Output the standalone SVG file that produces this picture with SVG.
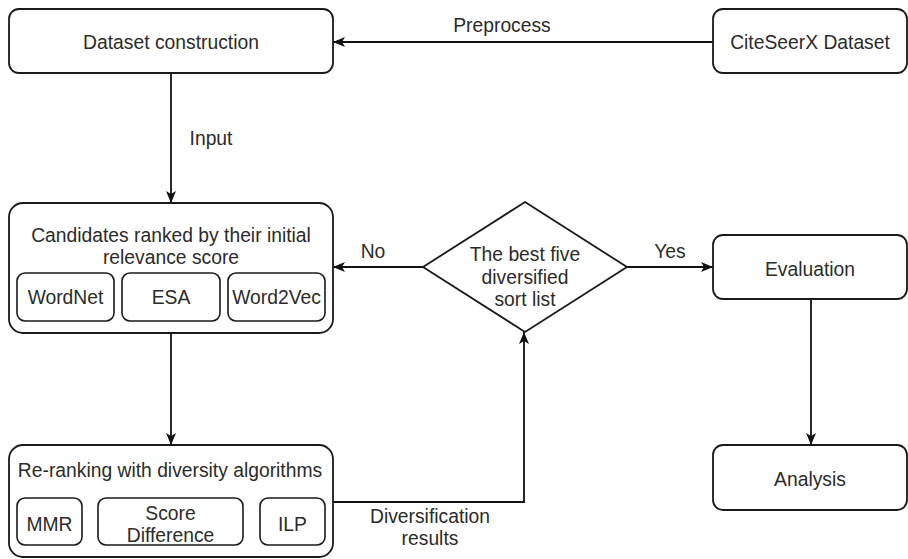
<svg xmlns="http://www.w3.org/2000/svg" width="908" height="559" viewBox="0 0 908 559">
  <defs>
    <marker id="arr" viewBox="0 0 12 10" refX="12" refY="5" markerWidth="12" markerHeight="10" markerUnits="userSpaceOnUse" orient="auto">
      <path d="M0,0 L12,5 L0,10 L3,5 Z" fill="#111"/>
    </marker>
    <style>
      .box { fill: #fff; stroke: #1a1a1a; stroke-width: 1.8; }
      .sub { fill: #fff; stroke: #1a1a1a; stroke-width: 1.6; }
      .t { font-family: "Liberation Sans", Arial, sans-serif; font-size: 19.3px; fill: #2b2b2b; text-anchor: middle; }
      .edge { fill: none; stroke: #111; stroke-width: 1.8; marker-end: url(#arr); }
    </style>
  </defs>
  <rect width="908" height="559" fill="#fff"/>

  <g id="connectors">
    <path class="edge" d="M713,42 L333,42"/>
    <path class="edge" d="M171,73 L171,203"/>
    <path class="edge" d="M423,267 L333,267"/>
    <path class="edge" d="M627,267 L713,267"/>
    <path class="edge" d="M171,333 L171,445"/>
    <path class="edge" d="M333,502 L524,502 L524,332"/>
    <path class="edge" d="M811,299 L811,445"/>
    <text class="t" x="502" y="32">Preprocess</text>
    <text class="t" x="211" y="145">Input</text>
    <text class="t" x="373" y="258">No</text>
    <text class="t" x="670" y="258">Yes</text>
    <text class="t" x="430" y="523">Diversification</text>
    <text class="t" x="430" y="545">results</text>
  </g>

  <g id="dataset-construction">
    <rect class="box" x="9" y="9" width="324" height="64" rx="10"/>
    <text class="t" x="171" y="49">Dataset construction</text>
  </g>

  <g id="citeseerx-dataset">
    <rect class="box" x="713" y="9" width="194" height="64" rx="10"/>
    <text class="t" x="810" y="49">CiteSeerX Dataset</text>
  </g>

  <g id="candidates">
    <rect class="box" x="9" y="203" width="324" height="130" rx="14"/>
    <text class="t" x="171" y="242">Candidates ranked by their initial</text>
    <text class="t" x="171" y="264">relevance score</text>
    <g id="wordnet">
      <rect class="sub" x="17" y="273" width="97" height="48" rx="8"/>
      <text class="t" x="65.5" y="304">WordNet</text>
    </g>
    <g id="esa">
      <rect class="sub" x="122" y="273" width="98" height="48" rx="8"/>
      <text class="t" x="171" y="304">ESA</text>
    </g>
    <g id="word2vec">
      <rect class="sub" x="228" y="273" width="97" height="48" rx="8"/>
      <text class="t" x="276.5" y="304">Word2Vec</text>
    </g>
  </g>

  <g id="decision">
    <polygon class="box" points="525,202 627,267 525,332 423,267"/>
    <text class="t" x="525" y="261">The best five</text>
    <text class="t" x="525" y="283.5">diversified</text>
    <text class="t" x="525" y="306">sort list</text>
  </g>

  <g id="evaluation">
    <rect class="box" x="713" y="235" width="194" height="64" rx="10"/>
    <text class="t" x="810" y="276">Evaluation</text>
  </g>

  <g id="reranking">
    <rect class="box" x="9" y="445" width="324" height="112" rx="14"/>
    <text class="t" x="170" y="477">Re-ranking with diversity algorithms</text>
    <g id="mmr">
      <rect class="sub" x="17" y="498" width="65" height="47" rx="8"/>
      <text class="t" x="49.5" y="531">MMR</text>
    </g>
    <g id="score-difference">
      <rect class="sub" x="98" y="498" width="145" height="47" rx="8"/>
      <text class="t" x="170.5" y="520">Score</text>
      <text class="t" x="170.5" y="542">Difference</text>
    </g>
    <g id="ilp">
      <rect class="sub" x="260" y="498" width="65" height="47" rx="8"/>
      <text class="t" x="292.5" y="531">ILP</text>
    </g>
  </g>

  <g id="analysis">
    <rect class="box" x="713" y="445" width="194" height="65" rx="10"/>
    <text class="t" x="810" y="486">Analysis</text>
  </g>
</svg>
